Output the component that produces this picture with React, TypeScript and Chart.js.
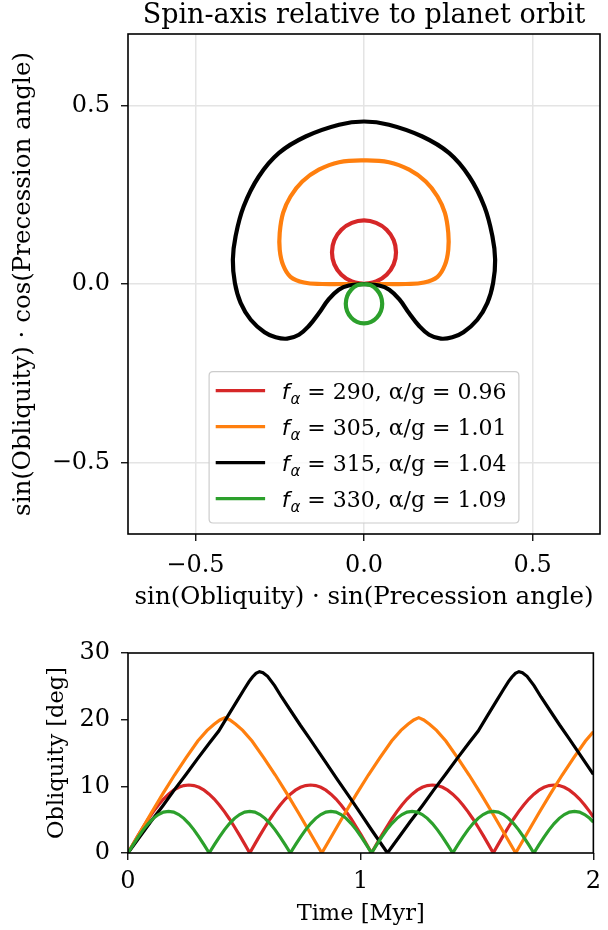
import React, { useEffect, useRef } from 'react';
import { Chart, registerables } from 'chart.js';

Chart.register(...registerables);

const SERIF = '"DejaVu Serif", "Liberation Serif", serif';
const SANS = '"DejaVu Sans", "Liberation Sans", sans-serif';

// ---- series metadata ----
const seriesColors = ['#d62728', '#ff7f0e', '#000000', '#2ca02c'];
const fAlphaValues = ['290', '305', '315', '330'];
const alphaOverG = ['0.96', '1.01', '1.04', '1.09'];
const drawOrder = [4, 3, 2, 1];
const titleText = 'Spin-axis relative to planet orbit';

// ---- top panel: spin-axis trajectories ----
const redX = [0, 0.036, 0.067, 0.088, 0.095, 0.088, 0.067, 0.036, 0, -0.036, -0.067, -0.088, -0.095, -0.088, -0.067, -0.036, 0];
const redY = [0, 0.007, 0.026, 0.055, 0.089, 0.123, 0.152, 0.171, 0.178, 0.171, 0.152, 0.123, 0.089, 0.055, 0.026, 0.007, 0];

const orangeX = [0, 0.064, 0.124, 0.178, 0.218, 0.24, 0.25, 0.25, 0.24, 0.218, 0.183, 0.134, 0.074, 0,
  -0.074, -0.134, -0.183, -0.218, -0.24, -0.25, -0.25, -0.24, -0.218, -0.178, -0.124, -0.064, 0];
const orangeY = [0, 0, 0, 0.004, 0.02, 0.053, 0.096, 0.143, 0.199, 0.245, 0.287, 0.32, 0.341, 0.346,
  0.341, 0.32, 0.287, 0.245, 0.199, 0.143, 0.096, 0.053, 0.02, 0.004, 0, 0, 0];

const blackX = [0, 0.045, 0.075, 0.105, 0.134, 0.163, 0.193, 0.228, 0.262, 0.295, 0.336, 0.366, 0.383, 0.389, 0.381, 0.357, 0.312, 0.252, 0.173, 0.074, 0,
  -0.074, -0.173, -0.252, -0.312, -0.357, -0.381, -0.389, -0.383, -0.366, -0.336, -0.295, -0.262, -0.228, -0.193, -0.163, -0.134, -0.105, -0.075, -0.045, 0];
const blackY = [0, -0.004, -0.016, -0.043, -0.082, -0.117, -0.142, -0.153, -0.149, -0.135, -0.1, -0.053, 0.003, 0.068, 0.133, 0.217, 0.301, 0.367, 0.413, 0.446, 0.455,
  0.446, 0.413, 0.367, 0.301, 0.217, 0.133, 0.068, 0.003, -0.053, -0.1, -0.135, -0.149, -0.153, -0.142, -0.117, -0.082, -0.043, -0.016, -0.004, 0];

const greenX = [0, 0.021, 0.038, 0.05, 0.054, 0.05, 0.038, 0.021, 0, -0.021, -0.038, -0.05, -0.054, -0.05, -0.038, -0.021, 0];
const greenY = [0, -0.004, -0.016, -0.034, -0.055, -0.076, -0.094, -0.106, -0.11, -0.106, -0.094, -0.076, -0.055, -0.034, -0.016, -0.004, 0];

// ---- bottom panel: obliquity [deg] vs time [Myr] ----
const timeRG = [0, 0.0218, 0.0436, 0.0654, 0.0872, 0.109, 0.1308, 0.1526, 0.1744, 0.1962, 0.218, 0.2398,
  0.2616, 0.2835, 0.3053, 0.3271, 0.3489, 0.3707, 0.3925, 0.4143, 0.4361, 0.4579, 0.4797, 0.5015,
  0.5233, 0.5451, 0.5669, 0.5887, 0.6105, 0.6323, 0.6541, 0.6759, 0.6977, 0.7195, 0.7413, 0.7631,
  0.7849, 0.8067, 0.8286, 0.8504, 0.8722, 0.894, 0.9158, 0.9376, 0.9594, 0.9812, 1.003, 1.0248,
  1.0466, 1.0684, 1.0902, 1.112, 1.1338, 1.1556, 1.1774, 1.1992, 1.221, 1.2428, 1.2646, 1.2864,
  1.3082, 1.33, 1.3519, 1.3737, 1.3955, 1.4173, 1.4391, 1.4609, 1.4827, 1.5045, 1.5263, 1.5481,
  1.5699, 1.5917, 1.6135, 1.6353, 1.6571, 1.6789, 1.7007, 1.7225, 1.7443, 1.7661, 1.7879, 1.8097,
  1.8315, 1.8533, 1.8752, 1.897, 1.9188, 1.9406, 1.9624, 1.9842, 2.0];
const redObl = [0, 1.33, 2.64, 3.9, 5.1, 6.21, 7.21, 8.09, 8.83, 9.42, 9.85, 10.11,
  10.2, 10.11, 9.85, 9.42, 8.83, 8.09, 7.21, 6.21, 5.1, 3.9, 2.64, 1.33,
  0, 1.33, 2.64, 3.9, 5.1, 6.21, 7.21, 8.09, 8.83, 9.42, 9.85, 10.11,
  10.2, 10.11, 9.85, 9.42, 8.83, 8.09, 7.21, 6.21, 5.1, 3.9, 2.64, 1.33,
  0, 1.33, 2.64, 3.9, 5.1, 6.21, 7.21, 8.09, 8.83, 9.42, 9.85, 10.11,
  10.2, 10.11, 9.85, 9.42, 8.83, 8.09, 7.21, 6.21, 5.1, 3.9, 2.64, 1.33,
  0, 1.33, 2.64, 3.9, 5.1, 6.21, 7.21, 8.09, 8.83, 9.42, 9.85, 10.11,
  10.2, 10.11, 9.85, 9.42, 8.83, 8.09, 7.21, 6.21, 5.4];
const greenObl = [0, 1.22, 2.39, 3.47, 4.42, 5.2, 5.77, 6.13, 6.25, 6.13, 5.77, 5.2, 4.42, 3.47, 2.39, 1.22,
  0, 1.22, 2.39, 3.47, 4.42, 5.2, 5.77, 6.13, 6.25, 6.13, 5.77, 5.2, 4.42, 3.47, 2.39, 1.22,
  0, 1.22, 2.39, 3.47, 4.42, 5.2, 5.77, 6.13, 6.25, 6.13, 5.77, 5.2, 4.42, 3.47, 2.39, 1.22,
  0, 1.22, 2.39, 3.47, 4.42, 5.2, 5.77, 6.13, 6.25, 6.13, 5.77, 5.2, 4.42, 3.47, 2.39, 1.22,
  0, 1.22, 2.39, 3.47, 4.42, 5.2, 5.77, 6.13, 6.25, 6.13, 5.77, 5.2, 4.42, 3.47, 2.39, 1.22,
  0, 1.22, 2.39, 3.47, 4.42, 5.2, 5.77, 6.13, 6.25, 6.13, 5.77, 5.2, 4.64];

const timeOrange = [0, 0.05, 0.1, 0.15, 0.2, 0.25, 0.3, 0.34, 0.37, 0.395, 0.4165, 0.438, 0.463, 0.493, 0.533, 0.583, 0.633, 0.683, 0.733, 0.783, 0.833,
  0.883, 0.933, 0.983, 1.033, 1.083, 1.133, 1.173, 1.203, 1.228, 1.2495, 1.271, 1.296, 1.326, 1.366, 1.416, 1.466, 1.516, 1.566, 1.616, 1.666,
  1.716, 1.766, 1.816, 1.866, 1.916, 1.966, 2.0];
const orangeObl = [0, 3.0, 6.0, 8.9, 11.7, 14.3, 16.8, 18.4, 19.3, 19.95, 20.3, 19.95, 19.3, 18.4, 16.8, 14.3, 11.7, 8.9, 6.0, 3.0, 0,
  3.0, 6.0, 8.9, 11.7, 14.3, 16.8, 18.4, 19.3, 19.95, 20.3, 19.95, 19.3, 18.4, 16.8, 14.3, 11.7, 8.9, 6.0, 3.0, 0,
  3.0, 6.0, 8.9, 11.7, 14.3, 16.8, 18.2];

const timeBlack = [0, 0.05, 0.1, 0.15, 0.2, 0.25, 0.3, 0.35, 0.39, 0.43, 0.47, 0.5, 0.52, 0.535, 0.55, 0.565, 0.58, 0.6, 0.63, 0.66, 0.7, 0.74, 0.78, 0.85, 0.9, 0.95, 1.0, 1.05, 1.115,
  1.165, 1.215, 1.265, 1.315, 1.365, 1.415, 1.465, 1.505, 1.545, 1.585, 1.615, 1.635, 1.65, 1.665, 1.68, 1.695, 1.715, 1.745, 1.775, 1.815, 1.855, 1.895, 1.965, 2.0];
const blackObl = [0, 2.4, 4.8, 7.1, 9.5, 11.8, 14.2, 16.5, 18.3, 20.6, 22.9, 24.6, 25.7, 26.4, 26.95, 27.2, 27.05, 26.5, 25.1, 23.4, 21.3, 19.2, 17.2, 13.6, 11.0, 8.5, 5.9, 3.3, 0,
  2.4, 4.8, 7.1, 9.5, 11.8, 14.2, 16.5, 18.3, 20.6, 22.9, 24.6, 25.7, 26.4, 26.95, 27.2, 27.05, 26.5, 25.1, 23.4, 21.3, 19.2, 17.2, 13.6, 11.8];

// ---- ticks ----
const spinTicks = [-0.5, 0, 0.5];
const timeTicks = [0, 1, 2];
const oblTicks = [0, 10, 20, 30];

const zip = (xs: number[], ys: number[]) => xs.map((x, i) => ({ x, y: ys[i] }));
const fmtSpin = (v: number) => (v < 0 ? '\u2212' + Math.abs(v).toFixed(1) : Math.abs(v).toFixed(1));

const TICK_FS = 24;
const LABEL_FS = 24.5;
const BOT_LABEL_FS = 22.5;

const framePlugin = {
  id: 'frame',
  afterDatasetsDraw(chart: any) {
    const { ctx, chartArea: a } = chart;
    ctx.save();
    ctx.strokeStyle = '#000';
    ctx.lineWidth = 1.6;
    ctx.strokeRect(a.left, a.top, a.right - a.left, a.bottom - a.top);
    ctx.restore();
  },
};

const titlePlugin = {
  id: 'axesTitle',
  afterDraw(chart: any) {
    const { ctx, chartArea: a } = chart;
    ctx.save();
    ctx.fillStyle = '#000';
    ctx.font = `27px ${SERIF}`;
    ctx.textAlign = 'center';
    ctx.textBaseline = 'alphabetic';
    ctx.fillText(titleText, (a.left + a.right) / 2, a.top - 11);
    ctx.restore();
  },
};

function roundRectPath(ctx: CanvasRenderingContext2D, x: number, y: number, w: number, h: number, r: number) {
  ctx.beginPath();
  ctx.moveTo(x + r, y);
  ctx.lineTo(x + w - r, y);
  ctx.quadraticCurveTo(x + w, y, x + w, y + r);
  ctx.lineTo(x + w, y + h - r);
  ctx.quadraticCurveTo(x + w, y + h, x + w - r, y + h);
  ctx.lineTo(x + r, y + h);
  ctx.quadraticCurveTo(x, y + h, x, y + h - r);
  ctx.lineTo(x, y + r);
  ctx.quadraticCurveTo(x, y, x + r, y);
  ctx.closePath();
}

const legendPlugin = {
  id: 'mathLegend',
  afterDraw(chart: any) {
    const { ctx, chartArea: a } = chart;
    const fs = 22;
    const rowGap = 36;
    const fontF = `italic ${fs}px ${SANS}`;
    const fontSub = `italic ${Math.round(fs * 0.7)}px ${SANS}`;
    const fontTxt = `${fs}px ${SERIF}`;
    ctx.save();
    const rows = fAlphaValues.map((f, i) => {
      const rest = ` = ${f}, \u03b1/g = ${alphaOverG[i]}`;
      ctx.font = fontF;
      const wf = ctx.measureText('f').width;
      ctx.font = fontSub;
      const ws = ctx.measureText('\u03b1').width;
      ctx.font = fontTxt;
      const wr = ctx.measureText(rest).width;
      return { rest, wf, ws, w: wf + 1 + ws + wr };
    });
    const textW = Math.max(...rows.map((r) => r.w));
    const padL = 6.6, lineLen = 49.4, gap = 16.6, padR = 12.4, padT = 19, padB = 24.3;
    const boxW = padL + lineLen + gap + textW + padR;
    const boxH = padT + rowGap * (rows.length - 1) + padB;
    const cx = (a.left + a.right) / 2;
    const bx = cx - boxW / 2;
    const by = a.bottom - 11 - boxH;
    roundRectPath(ctx, bx, by, boxW, boxH, 4);
    ctx.fillStyle = 'rgba(255,255,255,0.8)';
    ctx.fill();
    ctx.strokeStyle = '#cccccc';
    ctx.lineWidth = 1.2;
    ctx.stroke();
    rows.forEach((r, i) => {
      const yc = by + padT + i * rowGap;
      ctx.strokeStyle = seriesColors[i];
      ctx.lineWidth = 3.2;
      ctx.beginPath();
      ctx.moveTo(bx + padL, yc);
      ctx.lineTo(bx + padL + lineLen, yc);
      ctx.stroke();
      let x = bx + padL + lineLen + gap;
      const base = yc + fs * 0.365;
      ctx.fillStyle = '#000';
      ctx.textBaseline = 'alphabetic';
      ctx.textAlign = 'left';
      ctx.font = fontF;
      ctx.fillText('f', x, base);
      x += r.wf + 1;
      ctx.font = fontSub;
      ctx.fillText('\u03b1', x, base + fs * 0.22);
      x += r.ws;
      ctx.font = fontTxt;
      ctx.fillText(r.rest, x, base);
    });
    ctx.restore();
  },
};

const tickGrid = (onArea: boolean) => ({
  display: true,
  drawOnChartArea: onArea,
  drawTicks: true,
  color: '#e4e4e4',
  lineWidth: 1.5,
  tickColor: '#000',
  tickLength: 7,
  tickWidth: 1.3,
});

export default function App() {
  const topRef = useRef<HTMLCanvasElement | null>(null);
  const botRef = useRef<HTMLCanvasElement | null>(null);

  useEffect(() => {
    Chart.defaults.font.family = SERIF;
    const topXs = [redX, orangeX, blackX, greenX];
    const topYs = [redY, orangeY, blackY, greenY];
    const top = new Chart(topRef.current as HTMLCanvasElement, {
      type: 'scatter',
      data: {
        datasets: seriesColors.map((c, i) => ({
          label: `f_alpha = ${fAlphaValues[i]}, alpha/g = ${alphaOverG[i]}`,
          data: zip(topXs[i], topYs[i]),
          showLine: true,
          borderColor: c,
          backgroundColor: c,
          borderWidth: 4.2,
          pointRadius: 0,
          tension: 0.4,
          clip: 0,
          order: drawOrder[i],
        })),
      },
      options: {
        responsive: false,
        animation: false,
        devicePixelRatio: 1,
        layout: { padding: { left: 0, right: 8, top: 34, bottom: 0 } },
        plugins: {
          legend: { display: false },
          tooltip: { enabled: false },
          title: { display: false },
        },
        scales: {
          x: {
            type: 'linear',
            min: -0.7,
            max: 0.7,
            afterBuildTicks: (s: any) => { s.ticks = spinTicks.map((v) => ({ value: v })); },
            afterFit: (s: any) => { s.height = 86; },
            grid: tickGrid(true),
            border: { display: false },
            ticks: { color: '#000', font: { family: SERIF, size: TICK_FS }, padding: 10, maxRotation: 0, callback: (v: any) => fmtSpin(Number(v)) },
            title: {
              display: true,
              text: 'sin(Obliquity) \u00b7 sin(Precession angle)',
              color: '#000',
              font: { family: SERIF, size: LABEL_FS, lineHeight: 1.2 },
              padding: { top: 0, bottom: 7.3 },
            },
          },
          y: {
            type: 'linear',
            min: -0.7,
            max: 0.7,
            afterBuildTicks: (s: any) => { s.ticks = spinTicks.map((v) => ({ value: v })); },
            afterFit: (s: any) => { s.width = 128; },
            grid: tickGrid(true),
            border: { display: false },
            ticks: { color: '#000', font: { family: SERIF, size: TICK_FS }, padding: 11, callback: (v: any) => fmtSpin(Number(v)) },
            title: {
              display: true,
              text: 'sin(Obliquity) \u00b7 cos(Precession angle)',
              color: '#000',
              font: { family: SERIF, size: LABEL_FS, lineHeight: 1.2 },
              padding: { top: 9.3, bottom: 0 },
            },
          },
        },
      },
      plugins: [framePlugin, legendPlugin, titlePlugin],
    } as any);

    const botTimes = [timeRG, timeOrange, timeBlack, timeRG];
    const botVals = [redObl, orangeObl, blackObl, greenObl];
    const bot = new Chart(botRef.current as HTMLCanvasElement, {
      type: 'scatter',
      data: {
        datasets: seriesColors.map((c, i) => ({
          label: `f_alpha = ${fAlphaValues[i]}`,
          data: zip(botTimes[i], botVals[i]),
          showLine: true,
          borderColor: c,
          backgroundColor: c,
          borderWidth: 3.2,
          pointRadius: 0,
          tension: 0,
          clip: 0,
          order: drawOrder[i],
        })),
      },
      options: {
        responsive: false,
        animation: false,
        devicePixelRatio: 1,
        layout: { padding: { left: 0, right: 8, top: 33, bottom: 0 } },
        plugins: { legend: { display: false }, tooltip: { enabled: false }, title: { display: false } },
        scales: {
          x: {
            type: 'linear',
            min: 0,
            max: 2,
            afterBuildTicks: (s: any) => { s.ticks = timeTicks.map((v) => ({ value: v })); },
            afterFit: (s: any) => { s.height = 77; },
            grid: tickGrid(false),
            border: { display: false },
            ticks: { color: '#000', font: { family: SERIF, size: TICK_FS }, padding: 7, maxRotation: 0, callback: (v: any) => String(v) },
            title: {
              display: true,
              text: 'Time [Myr]',
              color: '#000',
              font: { family: SERIF, size: BOT_LABEL_FS, lineHeight: 1.2 },
              padding: { top: 0, bottom: 2.5 },
            },
          },
          y: {
            type: 'linear',
            min: 0,
            max: 30,
            afterBuildTicks: (s: any) => { s.ticks = oblTicks.map((v) => ({ value: v })); },
            afterFit: (s: any) => { s.width = 128; },
            grid: tickGrid(false),
            border: { display: false },
            ticks: { color: '#000', font: { family: SERIF, size: TICK_FS }, padding: 11, callback: (v: any) => String(v) },
            title: {
              display: true,
              text: 'Obliquity [deg]',
              color: '#000',
              font: { family: SERIF, size: BOT_LABEL_FS, lineHeight: 1.2 },
              padding: { top: 43.2, bottom: 0 },
            },
          },
        },
      },
      plugins: [framePlugin],
    } as any);

    return () => {
      top.destroy();
      bot.destroy();
    };
  }, []);

  return (
    <div style={{ position: 'absolute', left: 0, top: 0, width: 608, height: 930, background: '#fff' }}>
      <canvas ref={topRef} width={608} height={620} style={{ position: 'absolute', left: 0, top: 0, width: 608, height: 620 }} />
      <canvas ref={botRef} width={608} height={310} style={{ position: 'absolute', left: 0, top: 620, width: 608, height: 310 }} />
    </div>
  );
}
